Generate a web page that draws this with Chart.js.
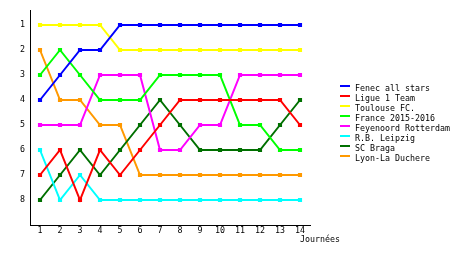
<!DOCTYPE html>
<html>
<head>
<meta charset="utf-8">
<script src="https://cdn.jsdelivr.net/npm/chart.js@4/dist/chart.umd.min.js"></script>
<style>
  html, body { margin: 0; padding: 0; background: #fff; }
  canvas { display: block; }
</style>
</head>
<body>
<canvas id="rank" width="460" height="255"></canvas>
<script>
// journées and rank per team
const journees = ['1','2','3','4','5','6','7','8','9','10','11','12','13','14'];
const yTicks = [1, 2, 3, 4, 5, 6, 7, 8];

const teams = ['Fenec all stars', 'Ligue 1 Team', 'Toulouse FC.', 'France 2015-2016',
  'Feyenoord Rotterdam', 'R.B. Leipzig', 'SC Braga', 'Lyon-La Duchere'];
const colors = ['#0000ff', '#ff0000', '#ffff00', '#00ff00', '#ff00ff', '#00ffff', '#007000', '#ff9900'];

const fenec     = [4, 3, 2, 2, 1, 1, 1, 1, 1, 1, 1, 1, 1, 1];
const ligue1    = [7, 6, 8, 6, 7, 6, 5, 4, 4, 4, 4, 4, 4, 5];
const toulouse  = [1, 1, 1, 1, 2, 2, 2, 2, 2, 2, 2, 2, 2, 2];
const france    = [3, 2, 3, 4, 4, 4, 3, 3, 3, 3, 5, 5, 6, 6];
const feyenoord = [5, 5, 5, 3, 3, 3, 6, 6, 5, 5, 3, 3, 3, 3];
const leipzig   = [6, 8, 7, 8, 8, 8, 8, 8, 8, 8, 8, 8, 8, 8];
const braga     = [8, 7, 6, 7, 6, 5, 4, 5, 6, 6, 6, 6, 5, 4];
const lyon      = [2, 4, 4, 5, 5, 7, 7, 7, 7, 7, 7, 7, 7, 7];

const series = [fenec, ligue1, toulouse, france, feyenoord, leipzig, braga, lyon];

const FONT = '"DejaVu Sans Mono", monospace';

// legend on the right, axis title and the left axis line, drawn by hand
const extras = {
  id: 'extras',
  afterDraw(chart) {
    const c = chart.ctx;
    const a = chart.chartArea;
    c.save();
    c.strokeStyle = '#000';
    c.lineWidth = 1;
    c.beginPath();
    c.moveTo(Math.round(a.left) + 0.5, a.top);
    c.lineTo(Math.round(a.left) + 0.5, a.bottom);
    c.stroke();

    c.font = '8.3px ' + FONT;
    c.textBaseline = 'middle';
    chart.data.datasets.forEach((ds, i) => {
      const y = 86 + i * 10;
      c.fillStyle = ds.borderColor;
      c.fillRect(340, y - 1, 10, 2);
      c.fillStyle = '#000';
      c.fillText(ds.label, 355, y + 3);
    });
    c.fillText('Journées', 300, 240);
    c.restore();
  }
};

new Chart(document.getElementById('rank'), {
  type: 'line',
  data: {
    labels: journees,
    datasets: series.map((d, i) => ({
      label: teams[i],
      data: d,
      borderColor: colors[i],
      backgroundColor: colors[i],
      pointBackgroundColor: colors[i],
      pointBorderColor: colors[i],
      borderWidth: 2,
      pointStyle: 'rect',
      pointRadius: 1.5,
      tension: 0,
      fill: false
    }))
  },
  options: {
    responsive: false,
    animation: false,
    layout: { padding: { top: 10, right: 150, left: 0, bottom: 0 } },
    plugins: { legend: { display: false }, tooltip: { enabled: false } },
    scales: {
      x: {
        type: 'category',
        offset: true,
        grid: { display: false, drawTicks: false },
        border: { display: true, color: '#000', width: 1 },
        ticks: { color: '#000', font: { family: FONT, size: 8.3 }, padding: 1, maxRotation: 0, autoSkip: false },
        afterFit: s => { s.height = 30; }
      },
      y: {
        type: 'linear',
        reverse: true,
        min: 0.4,
        max: 9,
        grid: { display: false, drawTicks: false },
        border: { display: true, color: '#000', width: 1 },
        ticks: { color: '#000', font: { family: FONT, size: 8.3 }, padding: 5 },
        afterBuildTicks: s => { s.ticks = yTicks.map(v => ({ value: v })); },
        afterFit: s => { s.width = 30; }
      }
    }
  },
  plugins: [extras]
});
</script>
</body>
</html>
